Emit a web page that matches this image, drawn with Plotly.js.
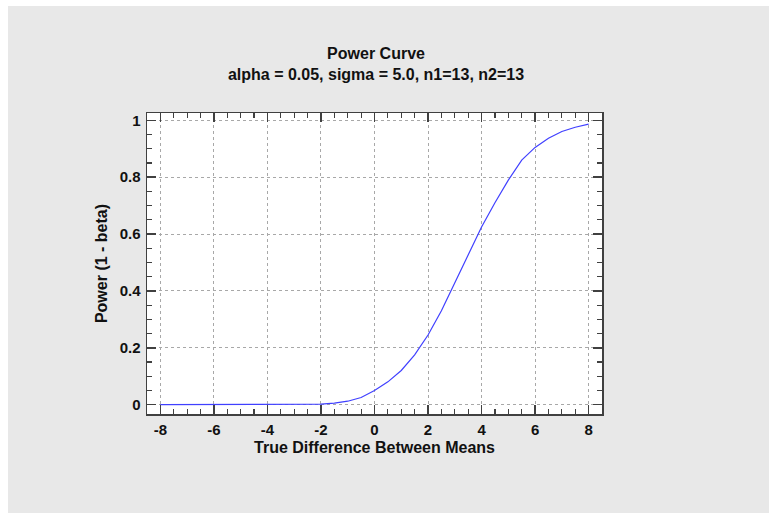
<!DOCTYPE html>
<html>
<head>
<meta charset="utf-8">
<script src="https://cdn.plot.ly/plotly-3.0.1.min.js"></script>
<style>
html,body{margin:0;padding:0;background:#ffffff;width:769px;height:513px;overflow:hidden;}
#wrap{position:absolute;left:8px;top:6px;width:761px;height:507px;}
</style>
</head>
<body>
<div id="wrap"><div id="chart"></div></div>
<script>
// True difference between means (x) and power (1 - beta)
const diffs = [-8,-7.5,-7,-6.5,-6,-5.5,-5,-4.5,-4,-3.5,-3,-2.5,-2,-1.5,-1,-0.5,0,0.5,1,1.5,2,2.5,3,3.5,4,4.5,5,5.5,6,6.5,7,7.5,8];
const power = [0,0,0,0,0,0,0,0,0,0,0,0.0005,0.002,0.005,0.012,0.025,0.05,0.08,0.12,0.175,0.245,0.33,0.43,0.525,0.625,0.71,0.79,0.86,0.905,0.937,0.961,0.976,0.987];
const xTickVals = [-8,-6,-4,-2,0,2,4,6,8];
const xTickText = ['-8','-6','-4','-2','0','2','4','6','8'];
const yTickVals = [0,0.2,0.4,0.6,0.8,1];
const yTickText = ['0','0.2','0.4','0.6','0.8','1'];
const titleText = 'Power Curve<br>alpha = 0.05, sigma = 5.0, n1=13, n2=13';
const xTitle = 'True Difference Between Means';
const yTitle = 'Power (1 - beta)';

const FONT = '"Liberation Sans", Arial, sans-serif';
const axisCommon = {
  showline: true, linecolor: '#404040', linewidth: 1.5, mirror: 'ticks',
  ticks: 'inside', ticklen: 9, tickwidth: 1.5, tickcolor: '#404040',
  showgrid: true, gridcolor: '#a8a8a8', gridwidth: 1, griddash: '3px,3px',
  zeroline: false, tickfont: {family: FONT, size: 15, color: '#111', weight: 'bold'},
  tickmode: 'array'
};

const trace = {
  x: diffs, y: power, type: 'scatter', mode: 'lines',
  line: {color: '#4040ff', width: 1.2}, hoverinfo: 'skip'
};

const layout = {
  width: 761, height: 507,
  paper_bgcolor: '#e8e8e8', plot_bgcolor: '#ffffff',
  margin: {l: 139, r: 167, t: 107, b: 99, pad: 0},
  showlegend: false,
  title: {text: titleText, x: 0.4836, xanchor: 'center', yref: 'container', y: 0.895, yanchor: 'top',
          font: {family: FONT, size: 16, color: '#111', weight: 'bold'}},
  xaxis: Object.assign({}, axisCommon, {
    range: [-8.5, 8.5], tickvals: xTickVals, ticktext: xTickText,
    ticklabelstandoff: 1,
    minor: {ticks: 'inside', ticklen: 5, tickwidth: 1.2, tickcolor: '#404040', dtick: 0.5, showgrid: false},
    title: {text: xTitle, standoff: 5, font: {family: FONT, size: 16, color: '#111', weight: 'bold'}}
  }),
  yaxis: Object.assign({}, axisCommon, {
    range: [-0.033, 1.026], tickvals: yTickVals, ticktext: yTickText,
    ticklabelstandoff: 2,
    minor: {ticks: 'inside', ticklen: 5, tickwidth: 1.2, tickcolor: '#404040', dtick: 0.05, showgrid: false},
    title: {text: yTitle, standoff: 8, font: {family: FONT, size: 16, color: '#111', weight: 'bold'}}
  })
};

Plotly.newPlot('chart', [trace], layout, {displayModeBar: false, staticPlot: true});
</script>
</body>
</html>
